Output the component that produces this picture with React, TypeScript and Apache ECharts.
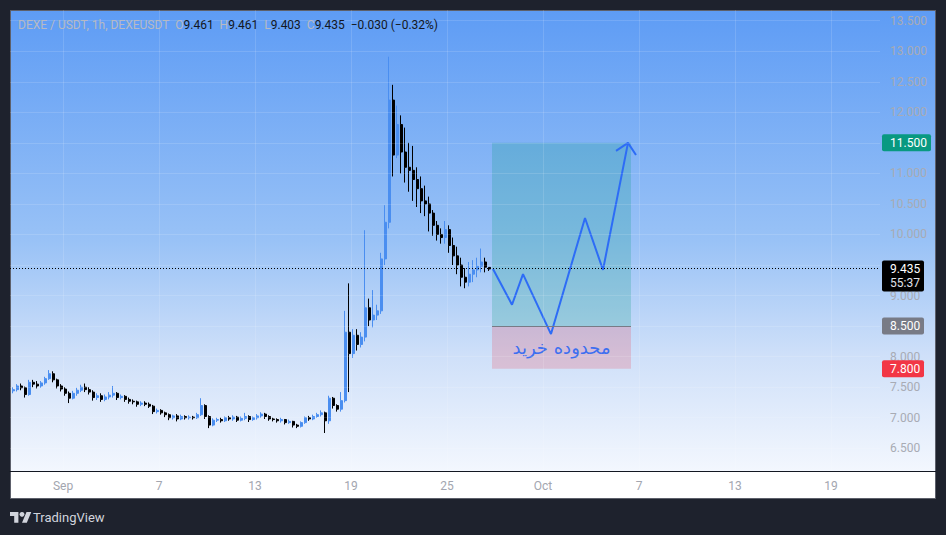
import React, { useEffect, useRef } from "react";
import * as echarts from "echarts";

// ---- data (hours are relative to Sep 1 00:00, 6-hour candles) ----
const CANDLE_FIRST_HOUR = -75;
const CANDLE_STEP_HOURS = 6;

const CANDLE_OPEN = [
  7.44, 7.46, 7.52, 7.49, 7.38, 7.58, 7.55, 7.52, 7.57, 7.64,
  7.72, 7.62, 7.52, 7.47, 7.40, 7.32, 7.40, 7.45, 7.50, 7.46,
  7.42, 7.33, 7.36, 7.30, 7.34, 7.37, 7.40, 7.33, 7.35, 7.30,
  7.27, 7.26, 7.22, 7.24, 7.22, 7.19, 7.10, 7.12, 7.08, 7.05,
  7.00, 7.03, 6.98, 7.02, 7.00, 7.01, 7.00, 7.05, 7.20, 7.02,
  6.88, 6.96, 6.97, 6.95, 7.00, 6.98, 7.01, 6.96, 6.99, 7.02,
  6.97, 7.00, 7.03, 7.06, 7.02, 6.98, 6.97, 6.95, 6.97, 6.92,
  6.94, 6.88, 6.86, 6.92, 7.00, 6.98, 7.02, 7.05, 7.08, 6.95,
  7.32, 7.20, 7.14, 7.28, 8.40, 8.05, 8.35, 8.20, 8.32, 8.80,
  8.60, 8.68, 8.75, 9.60, 10.20, 12.20, 11.30, 11.80, 11.35, 11.10,
  11.05, 10.90, 10.75, 10.55, 10.50, 10.35, 10.15, 10.00, 9.95, 10.08,
  9.82, 9.65, 9.50, 9.30, 9.22, 9.35, 9.42, 9.48, 9.55, 9.461,
];
const CANDLE_CLOSE = [
  7.46, 7.52, 7.49, 7.38, 7.58, 7.55, 7.52, 7.57, 7.64, 7.72,
  7.62, 7.52, 7.47, 7.40, 7.32, 7.40, 7.45, 7.50, 7.46, 7.42,
  7.33, 7.36, 7.30, 7.34, 7.37, 7.40, 7.33, 7.35, 7.30, 7.27,
  7.26, 7.22, 7.24, 7.22, 7.19, 7.10, 7.12, 7.08, 7.05, 7.00,
  7.03, 6.98, 7.02, 7.00, 7.01, 7.00, 7.05, 7.20, 7.02, 6.88,
  6.96, 6.97, 6.95, 7.00, 6.98, 7.01, 6.96, 6.99, 7.02, 6.97,
  7.00, 7.03, 7.06, 7.02, 6.98, 6.97, 6.95, 6.97, 6.92, 6.94,
  6.88, 6.86, 6.92, 7.00, 6.98, 7.02, 7.05, 7.08, 6.95, 7.32,
  7.20, 7.14, 7.28, 8.40, 8.05, 8.35, 8.20, 8.32, 8.80, 8.60,
  8.68, 8.75, 9.60, 10.20, 12.20, 11.30, 11.80, 11.35, 11.10, 11.05,
  10.90, 10.75, 10.55, 10.50, 10.35, 10.15, 10.00, 9.95, 10.08, 9.82,
  9.65, 9.50, 9.30, 9.22, 9.35, 9.42, 9.48, 9.55, 9.465, 9.435,
];
const CANDLE_LOW = [
  7.40, 7.43, 7.45, 7.33, 7.36, 7.50, 7.48, 7.49, 7.54, 7.62,
  7.58, 7.48, 7.43, 7.36, 7.24, 7.30, 7.36, 7.42, 7.42, 7.38,
  7.28, 7.29, 7.26, 7.27, 7.30, 7.33, 7.29, 7.30, 7.26, 7.23,
  7.22, 7.18, 7.19, 7.19, 7.16, 7.06, 7.07, 7.05, 7.01, 6.96,
  6.97, 6.94, 6.96, 6.97, 6.97, 6.97, 6.98, 7.03, 6.98, 6.83,
  6.86, 6.93, 6.92, 6.93, 6.95, 6.95, 6.93, 6.94, 6.96, 6.93,
  6.95, 6.97, 7.00, 6.98, 6.95, 6.94, 6.92, 6.92, 6.89, 6.90,
  6.84, 6.83, 6.84, 6.90, 6.95, 6.96, 7.00, 7.02, 6.75, 6.90,
  7.15, 7.10, 7.10, 7.25, 7.42, 7.98, 8.10, 8.15, 8.25, 8.50,
  8.48, 8.60, 8.70, 9.50, 10.10, 10.95, 11.25, 11.00, 10.85, 10.70,
  10.55, 10.45, 10.35, 10.30, 10.05, 9.98, 9.90, 9.85, 9.85, 9.70,
  9.50, 9.35, 9.15, 9.12, 9.15, 9.22, 9.30, 9.38, 9.38, 9.403,
];
const CANDLE_HIGH = [
  7.50, 7.55, 7.56, 7.51, 7.62, 7.62, 7.60, 7.60, 7.67, 7.78,
  7.76, 7.64, 7.55, 7.50, 7.43, 7.44, 7.49, 7.54, 7.56, 7.50,
  7.45, 7.40, 7.40, 7.38, 7.42, 7.52, 7.42, 7.38, 7.37, 7.33,
  7.30, 7.28, 7.27, 7.27, 7.25, 7.21, 7.15, 7.14, 7.10, 7.07,
  7.05, 7.06, 7.05, 7.04, 7.04, 7.03, 7.08, 7.32, 7.22, 7.04,
  6.99, 7.00, 7.00, 7.02, 7.03, 7.04, 7.03, 7.02, 7.08, 7.04,
  7.02, 7.06, 7.09, 7.08, 7.04, 7.00, 6.99, 7.00, 6.98, 6.97,
  6.95, 6.90, 6.94, 7.02, 7.03, 7.05, 7.08, 7.12, 7.10, 7.36,
  7.34, 7.22, 7.42, 8.75, 9.20, 8.45, 8.45, 8.40, 10.07, 8.95,
  9.09, 8.85, 9.70, 10.48, 12.91, 12.45, 12.11, 11.95, 11.75, 11.50,
  11.45, 11.10, 10.95, 10.80, 10.62, 10.40, 10.22, 10.10, 10.22, 10.15,
  9.95, 9.80, 9.62, 9.45, 9.55, 9.58, 9.62, 9.77, 9.62, 9.461,
];

const PRICE_TICKS = [6.5, 7, 7.5, 8, 8.5, 9, 9.5, 10, 10.5, 11, 11.5, 12, 12.5, 13, 13.5];
const PRICE_TICKS_COVERED = [9.5];
const TIME_TICK_HOURS = [0, 144, 288, 432, 576, 720, 864, 1008, 1152];
const TIME_TICK_LABELS = ["Sep", "7", "13", "19", "25", "Oct", "7", "13", "19"];

const X_MIN = -79.5;
const X_MAX = 1225.5;
const Y_MIN = 6.128;
const Y_MAX = 13.675;

const TARGET_PRICE = 11.5;
const ENTRY_PRICE = 8.5;
const STOP_PRICE = 7.8;
const ZONE_START_HOUR = 643.5;
const ZONE_END_HOUR = 852;
const ZONE_LABEL = "محدوده خرید";

const PATH_HOURS = [645, 673.5, 690, 732, 783, 810, 847.5];
const PATH_PRICES = [9.435, 8.85, 9.35, 8.37, 10.27, 9.42, 11.5];
const ARROW_HOURS = [829.5, 847.5, 859.5];
const ARROW_PRICES = [11.37, 11.5, 11.3];

const COUNTDOWN = "55:37";
const TITLE = "DEXE / USDT, 1h, DEXEUSDT";

// ---- styles ----
const UP = "#4a8ef0";
const DOWN = "#000000";
const FONT = "Roboto, 'Noto Sans', sans-serif";
const TV_LOGO_PATH = "M14 22H7V11H0V4h14v18zM28 22h-8l7.5-18h8L28 22z";

echarts.graphic.registerShape("tvlogo", echarts.graphic.extendPath(TV_LOGO_PATH, {}) as any);

const fmt = (v: number) => v.toFixed(3);
const signed = (v: number, d: number) => (v < 0 ? "\u2212" : "+") + Math.abs(v).toFixed(d);

export default function App() {
  const ref = useRef<HTMLDivElement>(null);

  useEffect(() => {
    const chart = echarts.init(ref.current!, null, { renderer: "svg" });
    const n = CANDLE_CLOSE.length;
    const candles = CANDLE_OPEN.map((o, i) => [
      CANDLE_FIRST_HOUR + i * CANDLE_STEP_HOURS,
      o,
      CANDLE_CLOSE[i],
      CANDLE_LOW[i],
      CANDLE_HIGH[i],
    ]);
    const lastO = CANDLE_OPEN[n - 1];
    const lastH = CANDLE_HIGH[n - 1];
    const lastL = CANDLE_LOW[n - 1];
    const lastC = CANDLE_CLOSE[n - 1];
    const prevC = CANDLE_CLOSE[n - 2];
    const chg = lastC - prevC;
    const pct = (chg / prevC) * 100;

    const faint = { color: "rgba(255,255,255,0.13)", width: 1, type: "solid" as const };

    const header =
      `{g|${TITLE}}  {g|O}{v|${fmt(lastO)}}  {g|H}{v|${fmt(lastH)}}  ` +
      `{g|L}{v|${fmt(lastL)}}  {g|C}{v|${fmt(lastC)}}  {v|${signed(chg, 3)} (${signed(pct, 2)}%)}`;

    const baseGraphic: any[] = [
      {
        type: "rect",
        z: -20,
        shape: { x: 10.5, y: 10.5, width: 925, height: 488 },
        style: { fill: "#ffffff", stroke: "#5d606b", lineWidth: 1 },
      },
      {
        type: "rect",
        z: -19,
        shape: { x: 11, y: 11, width: 924, height: 460 },
        style: {
          fill: new echarts.graphic.LinearGradient(0, 0, 0, 1, [
            { offset: 0, color: "#5e9cf5" },
            { offset: 0.5, color: "#99c2f6" },
            { offset: 0.75, color: "#cfe0f9" },
            { offset: 1, color: "#f3f7fe" },
          ]),
        },
      },
      {
        type: "line",
        z: 5,
        shape: { x1: 880, y1: 471.5, x2: 936, y2: 471.5 },
        style: { stroke: "#131722", lineWidth: 1 },
      },
      {
        type: "text",
        z: 20,
        style: {
          text: header,
          x: 18,
          y: 25,
          verticalAlign: "middle",
          font: `12px ${FONT}`,
          fill: "#b2b5be",
          rich: {
            g: { fill: "#b7bac3", font: `12px ${FONT}` },
            v: { fill: "#131722", font: `12px ${FONT}` },
          },
        },
      },
      {
        type: "tvlogo",
        z: 20,
        x: 10,
        y: 509.5,
        scaleX: 0.6,
        scaleY: 0.6,
        style: { fill: "#d1d4dc" },
      },
      {
        type: "circle",
        z: 20,
        shape: { cx: 22, cy: 514.3, r: 2.4 },
        style: { fill: "#d1d4dc" },
      },
      {
        type: "text",
        z: 20,
        style: {
          text: "TradingView",
          x: 33,
          y: 517,
          fill: "#d1d4dc",
          font: `13px ${FONT}`,
          verticalAlign: "middle",
        },
      },
    ];

    const option: any = {
      animation: false,
      backgroundColor: "#1e222d",
      textStyle: { fontFamily: FONT },
      grid: { left: 10, right: 66, top: 10, bottom: 64 },
      xAxis: {
        type: "value",
        min: X_MIN,
        max: X_MAX,
        axisLine: { show: true, lineStyle: { color: "#131722", width: 1 } },
        axisTick: { show: false },
        splitLine: { show: false },
        axisLabel: {
          customValues: TIME_TICK_HOURS,
          formatter: (v: number) => {
            const k = TIME_TICK_HOURS.indexOf(v);
            return k >= 0 ? TIME_TICK_LABELS[k] : "";
          },
          color: "#a3a6af",
          fontSize: 12,
          margin: 9,
        },
      },
      yAxis: {
        type: "value",
        position: "right",
        min: Y_MIN,
        max: Y_MAX,
        scale: true,
        axisLine: { show: false },
        axisTick: { show: false },
        splitLine: { show: false },
        axisLabel: {
          customValues: PRICE_TICKS.filter((p) => !PRICE_TICKS_COVERED.includes(p)),
          formatter: (v: number) => fmt(v),
          color: "#a8abb4",
          fontSize: 12,
          margin: 10,
        },
      },
      graphic: baseGraphic,
      series: [
        {
          name: "grid",
          type: "line",
          z: 1,
          data: [],
          silent: true,
          markLine: {
            silent: true,
            symbol: ["none", "none"],
            label: { show: false },
            lineStyle: faint,
            data: [
              ...PRICE_TICKS.map((p) => ({ yAxis: p })),
              ...TIME_TICK_HOURS.map((h) => ({ xAxis: h })),
            ],
          },
        },
        {
          name: "zone",
          type: "line",
          z: 1,
          data: [],
          silent: true,
          markArea: {
            silent: true,
            label: { show: false },
            data: [
              [
                { xAxis: ZONE_START_HOUR, yAxis: ENTRY_PRICE, itemStyle: { color: "rgba(8,153,129,0.22)" } },
                { xAxis: ZONE_END_HOUR, yAxis: TARGET_PRICE },
              ],
              [
                {
                  name: ZONE_LABEL,
                  xAxis: ZONE_START_HOUR,
                  yAxis: STOP_PRICE,
                  itemStyle: { color: "rgba(242,54,69,0.2)" },
                  label: {
                    show: true,
                    position: "inside",
                    color: "#3d6ff0",
                    fontSize: 18,
                    fontFamily: "'DejaVu Sans', sans-serif",
                    formatter: ZONE_LABEL,
                  },
                },
                { xAxis: ZONE_END_HOUR, yAxis: ENTRY_PRICE },
              ],
            ],
          },
          markLine: {
            silent: true,
            symbol: ["none", "none"],
            label: { show: false },
            lineStyle: { color: "#787b86", width: 1, type: "solid" },
            data: [[{ coord: [ZONE_START_HOUR, ENTRY_PRICE] }, { coord: [ZONE_END_HOUR, ENTRY_PRICE] }]],
          },
        },
        {
          name: "DEXEUSDT",
          type: "candlestick",
          z: 2,
          barWidth: 2.5,
          data: candles,
          itemStyle: {
            color: UP,
            color0: DOWN,
            borderColor: UP,
            borderColor0: DOWN,
            borderWidth: 1,
          },
          markLine: {
            silent: true,
            symbol: ["none", "none"],
            label: { show: false },
            lineStyle: { color: "#000000", width: 1, type: [1, 2] },
            data: [{ yAxis: lastC }],
          },
        },
        {
          name: "path",
          type: "line",
          z: 3,
          silent: true,
          symbol: "none",
          lineStyle: { color: "#2d6cf6", width: 2 },
          data: PATH_HOURS.map((h, i) => [h, PATH_PRICES[i]]),
        },
        {
          name: "arrow",
          type: "line",
          z: 3,
          silent: true,
          symbol: "none",
          lineStyle: { color: "#2d6cf6", width: 2 },
          data: ARROW_HOURS.map((h, i) => [h, ARROW_PRICES[i]]),
        },
      ],
    };

    chart.setOption(option);

    const tag = (price: number, bg: string, sub?: string) => {
      const [px, py] = chart.convertToPixel({ gridIndex: 0 }, [X_MAX, price]) as number[];
      const label = fmt(price);
      const w = 7 * label.length + 7;
      const h = sub ? 31 : 17;
      const els: any[] = [
        {
          type: "rect",
          z: 50,
          shape: { x: px + 2, y: py - 8.5, width: w, height: h, r: 2 },
          style: { fill: bg },
        },
        {
          type: "text",
          z: 51,
          style: { text: label, x: px + 10, y: py, fill: "#ffffff", font: `12px ${FONT}`, verticalAlign: "middle" },
        },
      ];
      if (sub) {
        els.push({
          type: "text",
          z: 51,
          style: { text: sub, x: px + 10, y: py + 14, fill: "#e0e3eb", font: `12px ${FONT}`, verticalAlign: "middle" },
        });
      }
      return els;
    };

    chart.setOption({
      graphic: [
        ...baseGraphic,
        ...tag(TARGET_PRICE, "#089981"),
        ...tag(lastC, "#000000", COUNTDOWN),
        ...tag(ENTRY_PRICE, "#787b86"),
        ...tag(STOP_PRICE, "#f23645"),
      ],
    });

    return () => chart.dispose();
  }, []);

  return (
    <div
      ref={ref}
      style={{ position: "fixed", left: 0, top: 0, width: 946, height: 535 }}
    />
  );
}
